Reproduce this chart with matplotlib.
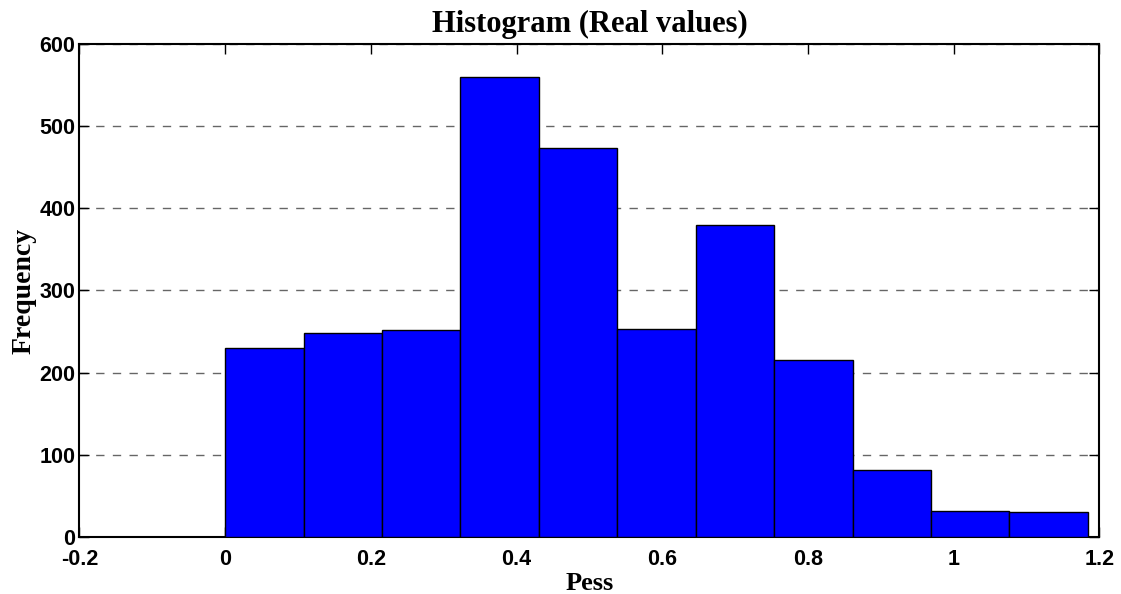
import numpy as np
import matplotlib.pyplot as plt

# histogram counts per bin, bins spanning the data range
counts = [230, 248, 252, 560, 473, 253, 380, 216, 81, 32, 30]
data_min, data_max = 0.0, 1.184
xticks = [-0.2, 0, 0.2, 0.4, 0.6, 0.8, 1, 1.2]
xtick_labels = ["-0.2", "0", "0.2", "0.4", "0.6", "0.8", "1", "1.2"]
yticks = [0, 100, 200, 300, 400, 500, 600]

edges = np.linspace(data_min, data_max, len(counts) + 1)

fig = plt.figure(figsize=(11.21, 5.94), dpi=100)
ax = fig.add_axes([0.0709, 0.0960, 0.9099, 0.8299])

ax.bar(edges[:-1], counts, width=np.diff(edges), align="edge",
       color="#0000FF", edgecolor="black", linewidth=1.0, zorder=3)

ax.set_xlim(-0.2, 1.2)
ax.set_ylim(0, 600)
ax.set_xticks(xticks)
ax.set_xticklabels(xtick_labels)
ax.set_yticks(yticks)

ax.yaxis.grid(True, linestyle=(0, (6, 6)), color="#666666", linewidth=1.0, zorder=0)
ax.set_axisbelow(True)

ax.tick_params(direction="in", length=7, width=1, top=True, right=True,
               labelsize=15.5)
ax.tick_params(axis="x", pad=9)
ax.tick_params(axis="y", pad=3)
for lab in ax.get_xticklabels() + ax.get_yticklabels():
    lab.set_fontfamily("Liberation Sans")
    lab.set_fontweight("bold")
for sp in ax.spines.values():
    sp.set_linewidth(1.5)

serif = dict(family="Liberation Serif", fontweight="bold")
ax.set_title("Histogram (Real values)", fontsize=22, pad=9, **serif)
ax.set_xlabel("Pess", fontsize=19, labelpad=1, **serif)
ax.set_ylabel("Frequency", fontsize=20, labelpad=2, **serif)

fig.savefig("out.png", dpi=100)
